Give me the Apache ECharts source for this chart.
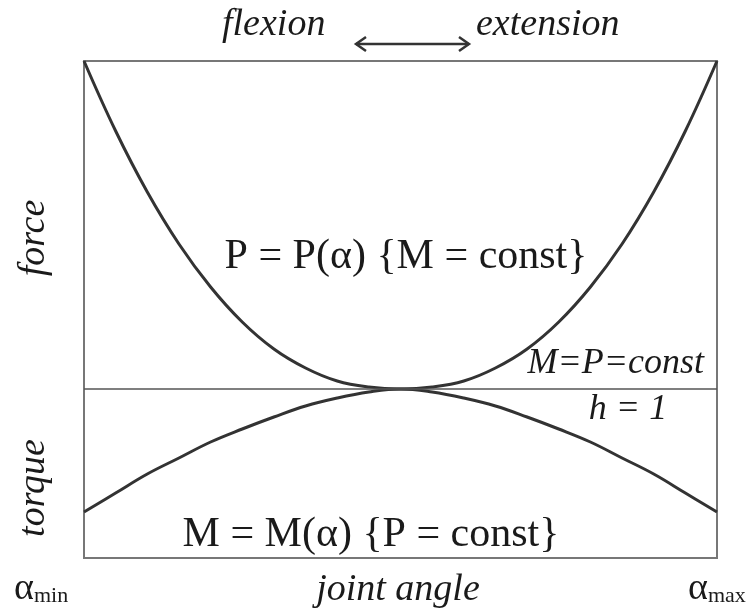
<!DOCTYPE html>
<html>
<head>
<meta charset="utf-8">
<title>joint angle</title>
<script src="https://cdn.jsdelivr.net/npm/echarts@6/dist/echarts.min.js"></script>
<style>
  html, body { margin: 0; padding: 0; background: #fff; }
  #chart { width: 754px; height: 610px; }
</style>
</head>
<body>
<div id="chart"></div>
<script>
// joint angle, alpha_min -> alpha_max (0..1)
var angles = [0, 0.05, 0.1, 0.15, 0.2, 0.25, 0.3, 0.35, 0.4, 0.45, 0.5,
  0.55, 0.6, 0.65, 0.7, 0.75, 0.8, 0.85, 0.9, 0.95, 1];
// force P(alpha) at M = const (above the h = 1 line)
var force = [328, 258, 197, 145, 102, 67, 40, 21, 8, 2, 0,
  2, 8, 21, 40, 67, 102, 145, 197, 258, 328];
// torque M(alpha) at P = const (below the line)
var torque = [-123, -104, -85, -69, -53, -40, -28, -17, -9, -3, 0,
  -3, -9, -17, -28, -40, -53, -69, -85, -104, -123];

var serif = 'Liberation Serif';
var ink = '#1a1a1a';

function pairs(ys) {
  return angles.map(function (a, i) { return [a, ys[i]]; });
}

var myChart = echarts.init(document.getElementById('chart'));

var option = {
  animation: false,
  backgroundColor: '#fff',
  grid: {
    left: 84, right: 37, top: 61, bottom: 52,
    show: true, borderColor: '#777', borderWidth: 2
  },
  xAxis: {
    type: 'value', min: 0, max: 1,
    axisLine: { show: false }, axisTick: { show: false },
    axisLabel: { show: false }, splitLine: { show: false }
  },
  yAxis: {
    type: 'value', min: -169, max: 328,
    axisLine: { show: false }, axisTick: { show: false },
    axisLabel: { show: false }, splitLine: { show: false }
  },
  series: [
    {
      type: 'line', smooth: 0.4, symbol: 'none',
      data: pairs(force),
      lineStyle: { color: '#333', width: 3 },
      markLine: {
        silent: true, symbol: 'none', label: { show: false },
        lineStyle: { color: '#555', width: 1.5, type: 'solid' },
        data: [{ yAxis: 0 }]
      }
    },
    {
      type: 'line', smooth: 0.4, symbol: 'none',
      data: pairs(torque),
      lineStyle: { color: '#333', width: 3 }
    }
  ],
  graphic: [
    // top: flexion <-> extension
    { type: 'text', left: 222, top: 6,
      style: { text: 'flexion', font: 'italic 38px ' + serif, fill: ink } },
    { type: 'text', left: 476, top: 6,
      style: { text: 'extension', font: 'italic 38px ' + serif, fill: ink } },
    { type: 'polyline', shape: { points: [[356, 44], [469, 44]] },
      style: { stroke: '#333', lineWidth: 2.5 } },
    { type: 'polyline', shape: { points: [[366, 37], [356, 44], [366, 51]] },
      style: { stroke: '#333', lineWidth: 2.5, fill: null } },
    { type: 'polyline', shape: { points: [[459, 37], [469, 44], [459, 51]] },
      style: { stroke: '#333', lineWidth: 2.5, fill: null } },

    // left side labels
    { type: 'text', x: 34, y: 238, rotation: Math.PI / 2,
      style: { text: 'force', font: 'italic 38px ' + serif, fill: ink,
        align: 'center', verticalAlign: 'middle' } },
    { type: 'text', x: 34, y: 488, rotation: Math.PI / 2,
      style: { text: 'torque', font: 'italic 38px ' + serif, fill: ink,
        align: 'center', verticalAlign: 'middle' } },

    // in-plot annotations
    { type: 'text', x: 406, y: 257,
      style: { text: 'P = P(α) {M = const}', font: '42px ' + serif, fill: ink,
        align: 'center', verticalAlign: 'middle' } },
    { type: 'text', x: 704, y: 364,
      style: { text: 'M=P=const', font: 'italic 36px ' + serif, fill: ink,
        align: 'right', verticalAlign: 'middle' } },
    { type: 'text', x: 628, y: 410,
      style: { text: 'h = 1', font: 'italic 36px ' + serif, fill: ink,
        align: 'center', verticalAlign: 'middle' } },
    { type: 'text', x: 371, y: 535,
      style: { text: 'M = M(α) {P = const}', font: '42px ' + serif, fill: ink,
        align: 'center', verticalAlign: 'middle' } },

    // bottom: alpha_min  joint angle  alpha_max
    { type: 'text', x: 398, y: 590,
      style: { text: 'joint angle', font: 'italic 38px ' + serif, fill: ink,
        align: 'center', verticalAlign: 'middle' } },
    { type: 'text', left: 14, top: 570,
      style: {
        text: '{a|α}{s|min}',
        rich: {
          a: { font: '38px ' + serif, fill: ink },
          s: { font: '22px ' + serif, fill: ink, padding: [14, 0, 0, 0] }
        }
      } },
    { type: 'text', left: 688, top: 570,
      style: {
        text: '{a|α}{s|max}',
        rich: {
          a: { font: '38px ' + serif, fill: ink },
          s: { font: '22px ' + serif, fill: ink, padding: [14, 0, 0, 0] }
        }
      } }
  ]
};

myChart.setOption(option);
</script>
</body>
</html>
